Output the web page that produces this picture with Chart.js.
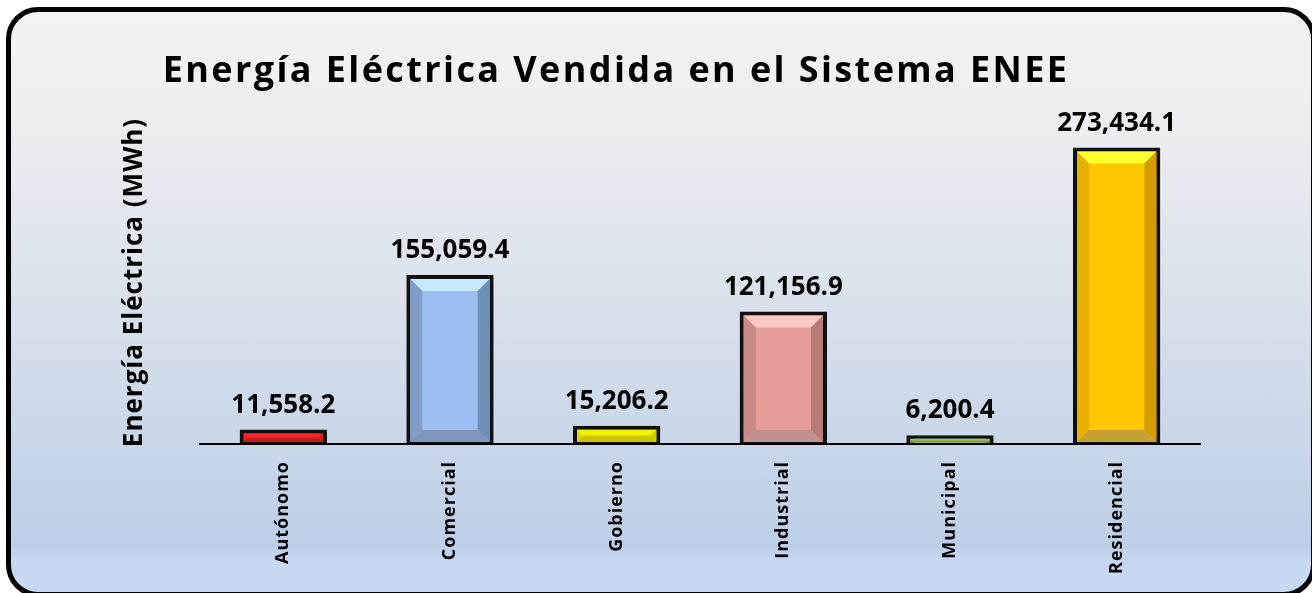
<!DOCTYPE html>
<html>
<head>
<meta charset="utf-8">
<script src="https://cdn.jsdelivr.net/npm/chart.js@4"></script>
<style>
  html, body { margin: 0; padding: 0; width: 1312px; height: 593px; overflow: hidden; background: #fff; }
  #frame {
    position: absolute; left: 6px; top: 7px; width: 1310px; height: 590px;
    box-sizing: border-box; border: 5px solid #000; border-radius: 32px;
    background: linear-gradient(to bottom, #f2f2f2 0%, #eeeff1 15%, #dde3ec 45%, #bccfe6 92%, #c6d9f1 95%, #c6d9f1 100%);
  }
  #chart { position: absolute; left: 0; top: 0; }
</style>
</head>
<body>
<div id="frame"></div>
<canvas id="chart" width="1312" height="593"></canvas>
<script>
const titleText = "Energía Eléctrica Vendida en el Sistema ENEE";
const yTitle = "Energía Eléctrica (MWh)";
const categories = ["Autónomo", "Comercial", "Gobierno", "Industrial", "Municipal", "Residencial"];
const energia = [11558.2, 155059.4, 15206.2, 121156.9, 6200.4, 273434.1];

// face, top, left, right, bottom bevel colours
const faces   = ["#ff2424", "#9cbef0", "#e8e800", "#e49c98", "#9bbb59", "#ffc800"];
const bevTop  = ["#ff2a2a", "#c8eaff", "#f2f200", "#ffc9c6", "#a0c060", "#ffff30"];
const bevLeft = ["#e82020", "#7e9ec8", "#dada00", "#c88a86", "#8aa850", "#e8ae00"];
const bevRight= ["#d01c1c", "#7090b8", "#cccc00", "#b87c78", "#809c48", "#d49e00"];
const bevBot  = ["#c81818", "#7f96b8", "#c8c400", "#c09090", "#7a9446", "#c6a030"];

const fmt = v => v.toLocaleString('en-US', { minimumFractionDigits: 1, maximumFractionDigits: 1 });

const BW = 4, INFL = 2;

const decor = {
  id: 'decor',
  beforeDraw(chart) {
    chart.ctx.letterSpacing = '1px';
  },
  afterDatasetsDraw(chart) {
    const ctx = chart.ctx;
    const bars = chart.getDatasetMeta(0).data;
    ctx.save();
    ctx.letterSpacing = '0px';
    bars.forEach((el, i) => {
      const p = el.getProps(['x', 'y', 'base', 'width'], true);
      const l = p.x - p.width / 2 - INFL + BW, r = p.x + p.width / 2 + INFL - BW;
      const t = p.y - INFL + BW, b = p.base + INFL - BW;
      const h = b - t;
      if (h <= 0) return;
      const s = Math.min(12, h / 2);
      const poly = (pts, c) => {
        ctx.beginPath();
        ctx.moveTo(pts[0][0], pts[0][1]);
        for (let k = 1; k < pts.length; k++) ctx.lineTo(pts[k][0], pts[k][1]);
        ctx.closePath();
        ctx.fillStyle = c;
        ctx.fill();
      };
      poly([[l, t], [r, t], [r - s, t + s], [l + s, t + s]], bevTop[i]);
      poly([[l, t], [l + s, t + s], [l + s, b - s], [l, b]], bevLeft[i]);
      poly([[r, t], [r, b], [r - s, b - s], [r - s, t + s]], bevRight[i]);
      poly([[l, b], [l + s, b - s], [r - s, b - s], [r, b]], bevBot[i]);
    });
    // value labels
    ctx.fillStyle = '#000';
    ctx.font = 'bold 26px "Open Sans"';
    ctx.textAlign = 'center';
    ctx.textBaseline = 'alphabetic';
    bars.forEach((el, i) => {
      const p = el.getProps(['x', 'y'], true);
      ctx.fillText(fmt(energia[i]), p.x, p.y - 19);
    });
    // chart title
    ctx.font = 'bold 36px "Open Sans"';
    ctx.letterSpacing = '2.4px';
    ctx.fillText(titleText, 616, 82);
    ctx.restore();
  }
};

new Chart(document.getElementById('chart'), {
  type: 'bar',
  data: {
    labels: categories,
    datasets: [{
      data: energia,
      backgroundColor: faces,
      borderColor: '#111',
      borderWidth: BW,
      borderSkipped: false,
      inflateAmount: INFL,
      barPercentage: 0.5,
      categoryPercentage: 1
    }]
  },
  options: {
    responsive: false,
    animation: false,
    layout: { padding: { left: 100, right: 112, top: 121, bottom: 0 } },
    plugins: { legend: { display: false }, tooltip: { enabled: false } },
    scales: {
      x: {
        grid: { display: false },
        border: { display: true, color: '#000', width: 2, z: 1 },
        ticks: {
          color: '#000', minRotation: 90, maxRotation: 90, padding: 9,
          font: { family: 'Open Sans', weight: 'bold', size: 18 }
        },
        afterFit(s) { s.height = 149; }
      },
      y: {
        min: 0, max: 300000,
        grid: { display: false },
        border: { display: false },
        ticks: { display: false },
        title: {
          display: true, text: yTitle, color: '#000',
          font: { family: 'Open Sans', weight: 'bold', size: 26 },
          padding: { top: 19, bottom: 0 }
        },
        afterFit(s) { s.width = 100; }
      }
    }
  },
  plugins: [decor]
});
</script>
</body>
</html>
